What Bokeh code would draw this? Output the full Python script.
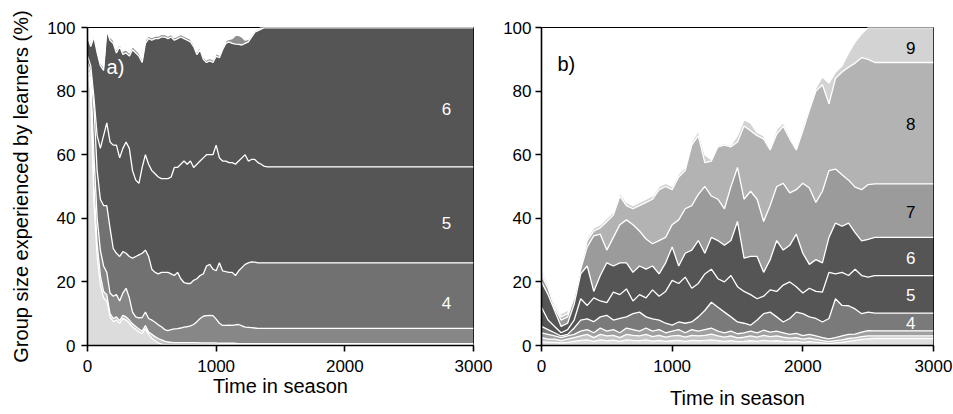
from bokeh.plotting import figure
from bokeh.layouts import row
from bokeh.models import Range1d, FixedTicker, Label
from bokeh.embed import file_html
from bokeh.resources import INLINE

FONT = "Liberation Sans"

# ---------------- panel a data (cumulative % boundaries per group size) ----------------
time_a = list(range(0, 1401, 25)) + [3000]
a_upto1 = [86, 80, 45, 28, 19, 15, 14, 9, 7.5, 8,
           7, 8.5, 8, 7, 5.8, 5, 4.3, 3.7, 5.3, 3.5,
           2.3, 1.5, 0.8, 0.4, 0.3, 0.3, 0.3, 0.3, 0.3, 0.3,
           0.3, 0.3, 0.3, 0.3, 0.3, 0.3, 0.3, 0.3, 0.3, 0.3,
           0.3, 0.3, 0.3, 0.3, 0.3, 0.3, 0.3, 0.3, 0.3, 0.3,
           0.3, 0.3, 0.3, 0.3, 0.3, 0.3, 0.3, 0.3]
a_upto2 = [87, 82, 50, 32, 22, 17, 16, 10, 8.5, 9,
           7.8, 9.5, 9, 8, 6.8, 6, 5.2, 4.5, 6.3, 4.2,
           3.5, 2.8, 2.2, 1.8, 1.4, 1.1, 1.0, 0.9, 0.9, 0.9,
           0.9, 0.9, 0.9, 0.9, 0.9, 0.8, 0.8, 0.8, 0.8, 0.8,
           0.8, 0.7, 0.7, 0.7, 0.7, 0.7, 0.7, 0.6, 0.6, 0.6,
           0.6, 0.6, 0.6, 0.6, 0.6, 0.6, 0.6, 0.6]
a_upto3 = [88, 84, 60, 40, 30, 25, 23, 16.5, 15.5, 16,
           14, 16.5, 18, 15, 10.5, 9, 8.7, 8.8, 10.5, 8.5,
           8, 7.3, 6.5, 5.9, 5, 4.7, 5, 5.2, 5.3, 5.5,
           5.8, 5.9, 6.2, 6.6, 7.5, 8.5, 9.2, 9.4, 9.5, 9.4,
           8.3, 7, 6.3, 6.3, 6.4, 6.3, 6.5, 6.6, 6.2, 5.8,
           5.7, 5.6, 5.5, 5.4, 5.4, 5.4, 5.4, 5.4]
a_upto4 = [89, 86, 75, 55, 46, 44, 44, 37, 30.5, 29,
           28, 29.5, 29, 28, 27.5, 28, 28.5, 29, 30, 28,
           24, 23, 22.5, 23, 23, 23, 22.5, 22, 23, 21,
           19.8, 19.5, 19.5, 20.5, 21, 22, 22.5, 25, 25.5, 24,
           23.5, 26, 23.5, 23.2, 23, 23, 22, 23.5, 24.5, 25.5,
           26, 26.3, 26.2, 26, 26, 26, 26, 26]
a_upto5 = [91, 88, 78, 66, 62, 66, 70, 64, 63, 63,
           59, 62, 64, 62, 55, 52, 51, 56, 60, 57,
           55, 54, 53, 52.5, 52.5, 52.5, 53, 56, 56, 57,
           58, 57, 58, 56, 57, 58, 59, 60, 60, 60,
           63, 59, 58, 58, 57.5, 57.5, 57, 58, 59, 60,
           58, 58.5, 58.5, 57.5, 57, 56.3, 56.2, 56.2]
a_upto6 = [97, 94, 97, 92, 88, 86.5, 99, 96, 95, 92,
           94, 91.5, 92, 91, 93, 92, 91, 89, 95, 96.5,
           96, 96.5, 96.5, 97, 97, 96.5, 97, 96, 96.5, 97,
           96.5, 96, 95.5, 94, 91.5, 93, 90, 89, 89.5, 89,
           91, 90.5, 93, 95, 95.5, 95, 94.8, 94.7, 94.5, 95,
           95.5, 97, 98.5, 99, 99.5, 100, 100, 100]
a_upto7 = [97.8, 95, 98, 93, 89, 87.5, 99.8, 97, 96, 93,
           95, 92.5, 93, 92, 94, 93, 92, 90, 96, 97.3,
           96.8, 97.3, 97.3, 97.8, 97.8, 97.3, 97.8, 96.8, 97.3, 97.8,
           97.3, 96.8, 96.3, 94.8, 92.3, 93.8, 90.8, 89.8, 90.3, 89.8,
           91.8, 91.3, 93.8, 95.8, 96.3, 96.5, 97.5, 97.5, 97, 96,
           96.3, 97.6, 99, 99.5, 100, 100, 100, 100]

# ---------------- panel b data ----------------
time_b = list(range(0, 2551, 50)) + [3000]
b_upto1 = [1.2, 1.0, 1.0, 0.8, 1.0, 1.3, 1.6, 1.8, 1.3, 1.8,
           1.5, 1.7, 1.3, 1.8, 1.6, 1.5, 1.8, 1.4, 1.6, 1.3,
           1.5, 1.6, 1.3, 1.6, 1.5, 1.6, 1.8, 1.5, 1.3, 1.5,
           1.2, 1.3, 1.5, 1.3, 1.6, 1.4, 1.5, 1.3, 1.2, 1.3,
           1.0, 1.2, 1.0, 0.8, 0.6, 0.8, 1.0, 1.3, 1.6, 1.9,
           2.1, 2.2, 2.2]
b_upto2 = [2.5, 2.0, 2.0, 1.5, 2.0, 2.5, 3.0, 3.5, 2.5, 3.5,
           3.0, 3.2, 2.5, 3.5, 3.2, 3.0, 3.5, 2.8, 3.2, 2.6,
           3.0, 3.2, 2.6, 3.2, 3.0, 3.2, 3.6, 3.0, 2.6, 3.0,
           2.4, 2.6, 3.0, 2.6, 3.2, 2.8, 3.0, 2.6, 2.3, 2.5,
           2.0, 2.3, 1.9, 1.5, 1.2, 1.5, 1.8, 2.2, 2.4, 2.8,
           3.0, 3.0, 3.0]
b_upto3 = [4.0, 3.5, 3.0, 2.5, 3.0, 3.5, 4.5, 5.0, 4.0, 5.5,
           4.5, 5.0, 4.0, 5.5, 5.0, 4.5, 5.5, 4.5, 5.0, 4.0,
           4.5, 5.0, 4.0, 5.0, 4.5, 5.0, 5.5, 4.5, 4.0, 4.5,
           3.7, 4.0, 4.5, 4.0, 4.8, 4.2, 4.5, 4.0, 3.5, 3.8,
           3.1, 3.5, 3.0, 2.5, 2.1, 2.5, 3.0, 3.5, 3.6, 4.2,
           4.7, 4.6, 4.6]
b_upto4 = [6, 5, 4, 3, 3.5, 5.5, 8, 8.4, 7.5, 9,
           9.5, 8, 8.5, 9, 10, 10.5, 9, 8.4, 8, 7,
           6.4, 7.4, 7, 7.4, 9, 11, 13.6, 12, 10.5, 9,
           7.4, 7, 6.4, 8, 10, 10.5, 9, 7.4, 8.5, 10.5,
           10, 9, 8.5, 7.4, 8.5, 14.7, 12.6, 12.5, 11.5, 10,
           10.5, 10.2, 10.2]
b_upto5 = [12, 8, 6, 4, 5, 8, 14.7, 12.6, 15, 14,
           13.5, 16.8, 16, 17.8, 14, 16, 15, 17.5, 15.5, 17,
           20.5, 19.5, 21.5, 18, 19.5, 22.5, 24, 21, 20, 22,
           18.5, 17, 16, 14.7, 15.5, 17.5, 17, 19, 20, 18.5,
           16.5, 18, 17, 16.8, 23, 22.5, 23, 22, 24, 22,
           21.5, 22, 22]
b_upto6 = [20, 16, 11, 6, 7, 13, 22.5, 25, 17, 22,
           26, 25, 26, 26, 23, 25, 24, 25, 22.5, 26,
           31, 25, 29, 30, 33, 29, 34, 33, 31.5, 33,
           39, 27.5, 28, 28, 23, 27, 33, 30, 31.5, 35,
           29, 25.5, 27, 26, 34, 38.5, 37.5, 38.5, 35.5, 32.9,
           33.4, 34, 34]
b_upto7 = [22, 18, 12, 8, 9, 15, 24, 31, 34.5, 35,
           30, 34, 38, 39.5, 38, 36, 33.5, 32, 33, 34,
           38, 39.5, 43, 44, 47.5, 50, 47, 46, 43, 50,
           56, 46, 48.5, 46, 39, 44, 50, 51, 48, 49,
           51, 49.5, 45, 48.5, 55, 55.5, 53.7, 52, 49.8, 49,
           50.6, 50.8, 50.8]
b_upto8 = [23, 19, 13, 9, 10, 15.5, 25, 33, 36, 37,
           39, 41, 47, 44, 43, 44, 45, 46, 49, 50,
           49, 53, 55, 63, 66, 57.5, 58, 62.5, 63, 62.5,
           64, 69, 67.5, 66, 65, 61.5, 66.5, 69, 65, 61.5,
           67.5, 74, 80, 82, 76, 84, 86, 87.5, 88.8, 90.5,
           90, 89, 89]
b_upto9 = [24, 20, 14, 10, 11, 16, 25.5, 34, 37, 38,
           40, 42, 48, 45, 44, 45, 46, 47, 50, 51,
           50, 54, 56, 64, 67.5, 60, 58.5, 63, 63.5, 63,
           66, 71, 70, 67, 66, 62, 68, 70, 66, 62,
           69, 75, 81, 84.5, 82.5, 86, 88, 92, 95.5, 98,
           100, 100, 100]

x_ticks = [0, 1000, 2000, 3000]
y_ticks = [0, 20, 40, 60, 80, 100]

labels_a = ["4", "5", "6"]
labels_a_y = [13.5, 38.6, 74.3]
labels_b = ["4", "5", "6", "7", "8", "9"]
labels_b_y = [7.2, 15.9, 27.5, 42, 69.7, 93.6]

colors_a = ["#dcdcdc", "#c6c6c6", "#878787", "#717171", "#555555", "#555555", "#8e8e8e"]
colors_b = ["#dedede", "#c4c4c4", "#a0a0a0", "#7a7a7a", "#555555", "#555555",
            "#9b9b9b", "#b3b3b3", "#d3d3d3"]


def make_fig(width, mbl, mbr, mbt, mbb, ylabel, label_standoff, ylab_standoff, tick_standoff_y):
    p = figure(width=width, height=414, x_range=Range1d(0, 3000), y_range=Range1d(0, 100),
               output_backend="svg", toolbar_location=None,
               min_border_left=mbl, min_border_right=mbr, min_border_top=mbt, min_border_bottom=mbb)
    p.grid.visible = False
    p.outline_line_color = "black"
    p.outline_line_width = 1
    p.background_fill_color = "white"
    p.border_fill_color = "white"
    p.xaxis.ticker = FixedTicker(ticks=x_ticks)
    p.yaxis.ticker = FixedTicker(ticks=y_ticks)
    for ax in (p.xaxis[0], p.yaxis[0]):
        ax.axis_line_width = 1.6
        ax.axis_line_color = "black"
        ax.major_tick_line_width = 1.6
        ax.major_tick_line_color = "black"
        ax.major_tick_out = 6
        ax.major_tick_in = 0
        ax.minor_tick_line_color = None
        ax.major_label_text_font = FONT
        ax.major_label_text_font_size = "17px"
        ax.major_label_text_color = "black"
        ax.axis_label_text_font = FONT
        ax.axis_label_text_font_size = "20px"
        ax.axis_label_text_font_style = "normal"
        ax.axis_label_text_color = "black"
    p.xaxis.axis_label = "Time in season"
    p.xaxis.major_label_standoff = 8
    p.xaxis.axis_label_standoff = label_standoff
    p.yaxis.major_label_standoff = tick_standoff_y
    if ylabel:
        p.yaxis.axis_label = ylabel
        p.yaxis.axis_label_standoff = ylab_standoff
    return p


def draw_stack(p, t, bounds, colors):
    lower = [0.0] * len(t)
    for b, c in zip(bounds, colors):
        p.varea(x=t, y1=lower, y2=b, fill_color=c, fill_alpha=1.0)
        lower = b
    for b in bounds:
        p.line(t, b, line_color="white", line_width=1.3)


pa = make_fig(500, 87, 27, 26, 69, "Group size experienced by learners (%)", 0, 12, 6)
draw_stack(pa, time_a, [a_upto1, a_upto2, a_upto3, a_upto4, a_upto5, a_upto6, a_upto7], colors_a)
pa.add_layout(Label(x=148, y=84, text="a)", text_font=FONT, text_font_size="20px",
                    text_color="white"))
for s, yv in zip(labels_a, labels_a_y):
    pa.add_layout(Label(x=2790, y=yv, text=s, text_font=FONT, text_font_size="17px",
                        text_color="white", text_align="center", text_baseline="middle"))

pb = make_fig(453, 39, 20, 27, 67, None, 12, 0, 4)
draw_stack(pb, time_b, [b_upto1, b_upto2, b_upto3, b_upto4, b_upto5, b_upto6, b_upto7,
                        b_upto8, b_upto9], colors_b)
pb.add_layout(Label(x=122, y=85, text="b)", text_font=FONT, text_font_size="20px",
                    text_color="black"))
for s, yv in zip(labels_b, labels_b_y):
    col = "white" if s in ("4", "5", "6") else "black"
    pb.add_layout(Label(x=2826, y=yv, text=s, text_font=FONT, text_font_size="17px",
                        text_color=col, text_align="center", text_baseline="middle"))

layout = row(pa, pb)
open("out.html", "w").write(file_html(layout, INLINE))
